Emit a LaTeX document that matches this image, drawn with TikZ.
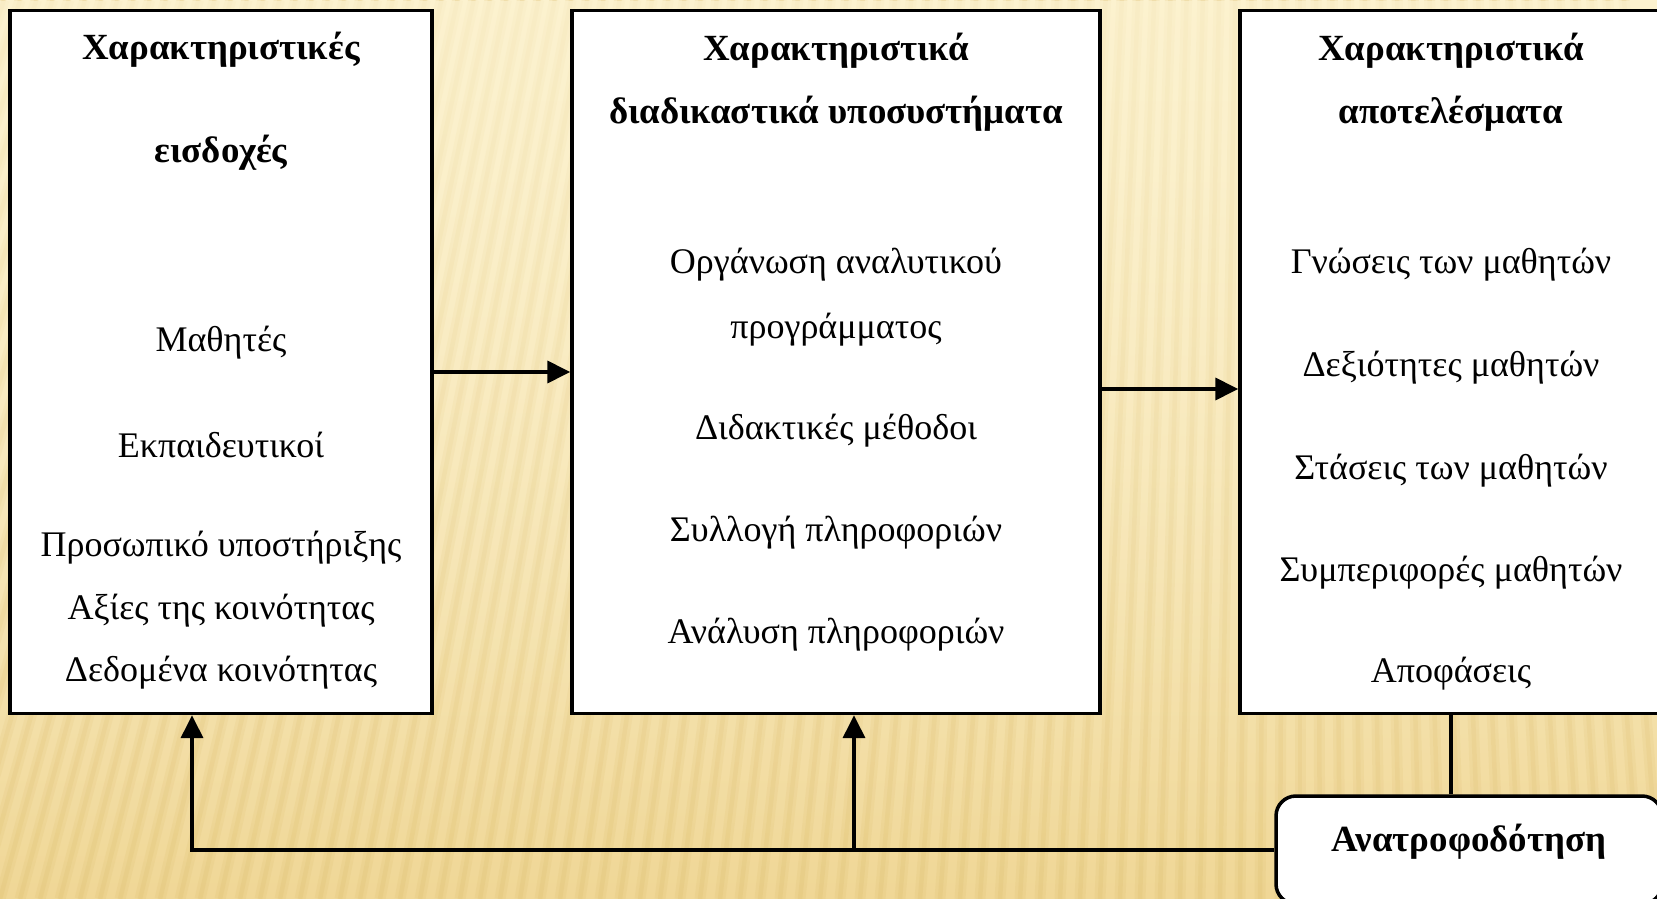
\documentclass[tikz,border=0pt]{standalone}
\usepackage{fontspec}
\setmainfont{Liberation Serif}
\usetikzlibrary{arrows.meta, fadings}

\definecolor{paper}{HTML}{FCF2CF}
\definecolor{sand}{HTML}{F0D796}
\definecolor{stripe}{HTML}{DDBE6C}

\tikzfading[name=fadetop, top color=transparent!25, bottom color=transparent!100]

\tikzset{
    box/.style={draw, fill=white, line width=2pt, inner sep=0pt},
    txt/.style={font=\fontsize{20.5}{24}\selectfont, inner sep=0pt},
    head/.style={font=\fontsize{21}{25}\selectfont\bfseries, inner sep=0pt},
    arr/.style={line width=2pt, -{Triangle[length=13pt, width=12.5pt]}}
}

\begin{document}
\begin{tikzpicture}[x=0.02cm, y=-0.02cm]
    \useasboundingbox (0,0) rectangle (1657,899);
    \begin{scope}
        \clip (0,0) rectangle (1657,899);
        % background
        \shade[top color=paper, bottom color=sand] (0,0) rectangle (1657,899);
        \foreach \xb in {-400,-380,...,1700} {
            \draw[stripe, opacity=0.18, line width=0.22cm] (\xb,899) -- ({\xb+0.19*(1300-\xb)},0);
            \draw[stripe, opacity=0.22, line width=0.09cm] (\xb,899) -- ({\xb+0.19*(1300-\xb)},0);
        }
        \fill[paper, path fading=fadetop] (0,0) rectangle (1657,899);

        % boxes
        \node[box, minimum width=422*0.02cm, minimum height=703*0.02cm] (inbox) at (221,362) {};
        \node[box, minimum width=528*0.02cm, minimum height=703*0.02cm] (proc) at (836,362) {};
        \node[box, minimum width=460*0.02cm, minimum height=703*0.02cm] (outbox) at (1470,362) {};
        \node[box, rounded corners=0.4cm, minimum width=386*0.02cm, minimum height=108*0.02cm] (fb) at (1469,850) {};

        % inputs
        \node[head] (inh1) at (221,50) {Χαρακτηριστικές};
        \node[head] (inh2) at (221,153) {εισδοχές};
        \node[txt] (in1) at (221,343) {Μαθητές};
        \node[txt] (in2) at (221,445) {Εκπαιδευτικοί};
        \node[txt] (in3) at (221,548) {Προσωπικό υποστήριξης};
        \node[txt] (in4) at (221,611) {Αξίες της κοινότητας};
        \node[txt] (in5) at (221,673) {Δεδομένα κοινότητας};

        % processes
        \node[head] (prh1) at (836,51) {Χαρακτηριστικά};
        \node[head] (prh2) at (836,114) {διαδικαστικά υποσυστήματα};
        \node[txt] (pr1) at (836,265) {Οργάνωση αναλυτικού};
        \node[txt] (pr2) at (836,330) {προγράμματος};
        \node[txt] (pr3) at (836,431) {Διδακτικές μέθοδοι};
        \node[txt] (pr4) at (836,533) {Συλλογή πληροφοριών};
        \node[txt] (pr5) at (836,635) {Ανάλυση πληροφοριών};

        % outcomes
        \node[head] (outh1) at (1451,51) {Χαρακτηριστικά};
        \node[head] (outh2) at (1451,114) {αποτελέσματα};
        \node[txt] (out1) at (1451,265) {Γνώσεις των μαθητών};
        \node[txt] (out2) at (1451,368) {Δεξιότητες μαθητών};
        \node[txt] (out3) at (1451,471) {Στάσεις των μαθητών};
        \node[txt] (out4) at (1451,573) {Συμπεριφορές μαθητών};
        \node[txt] (out5) at (1451,674) {Αποφάσεις};

        \node[head] (fbtxt) at (1469,842) {Ανατροφοδότηση};

        % connectors
        \draw[arr] ([yshift=-0.2cm]inbox.east) -- ([yshift=-0.2cm]proc.west);
        \draw[arr] ([yshift=-0.54cm]proc.east) -- ([yshift=-0.54cm]outbox.west);
        \draw[line width=2pt] (outbox.south -| out5) -- (fb.north -| out5);
        \draw[arr] (fb.west) -| ([xshift=-0.58cm]inbox.south);
        \draw[arr] ([xshift=0.36cm]proc.south |- fb.west) -- ([xshift=0.36cm]proc.south);
    \end{scope}
\end{tikzpicture}
\end{document}
